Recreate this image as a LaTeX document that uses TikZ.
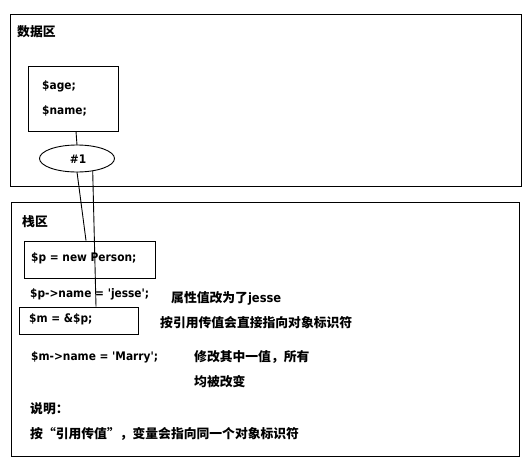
\documentclass[tikz,border=0pt]{standalone}
\usepackage{fontspec}
\setmainfont{Noto Sans CJK SC}
\newfontfamily\lat{DejaVu Sans Condensed}[Ligatures=TeXOff]
\usetikzlibrary{shapes.geometric}
\begin{document}
\begin{tikzpicture}[x=1pt,y=-1pt,
  box/.style={draw,line width=0.9pt,inner sep=0pt},
  txt/.style={anchor=west,inner sep=0pt,font=\fontsize{12.8}{14}\selectfont\bfseries},
  code/.style={anchor=west,inner sep=0pt,font=\lat\fontsize{11.8}{14}\selectfont\bfseries},
  conn/.style={line width=0.9pt}]
\useasboundingbox[fill=white] (0,0) rectangle (532,463);
% outer areas
\node[box,minimum width=511pt,minimum height=172pt] (data) at (265.5,100) {};
\node[box,minimum width=508pt,minimum height=254pt] (stack) at (265,329) {};
\node[txt] (datal) at (17,32) {数据区};
\node[txt] (stackl) at (22,222) {栈区};
% object
\node[box,minimum width=90pt,minimum height=65pt] (obj) at (73,98.5) {};
\node[code] (age) at (42,86) {\$age;};
\node[code] (name) at (42,111) {\$name;};
\node[draw,ellipse,line width=0.9pt,minimum width=75pt,minimum height=27pt,inner sep=0pt,outer sep=0pt] (ell) at (77,158.5) {};
\node[code,anchor=center] (id) at (78,159) {\#1};
% stack boxes
\node[box,minimum width=131pt,minimum height=37pt] (pbox) at (89.5,259.5) {};
\node[code] (pnew) at (31,258) {\$p = new Person;};
\node[code] (pname) at (30,294) {\$p->name = 'jesse';};
\node[txt] (c1) at (171,298) {属性值改为了{\lat jesse}};
\node[box,minimum width=119pt,minimum height=27pt] (mbox) at (78.5,320.5) {};
\node[code] (mref) at (29,319) {\$m = \&\$p;};
\node[txt] (c2) at (160,323) {按引用传值会直接指向对象标识符};
\node[code] (mname) at (31,357) {\$m->name = 'Marry';};
\node[txt] (c3) at (194,357) {修改其中一值，所有};
\node[txt] (c4) at (194,382) {均被改变};
\node[txt] (c5) at (30,409) {说明：};
\node[txt] (c6) at (30,434) {按“引用传值”，变量会指向同一个对象标识符};
% connectors
\draw[conn] ([xshift=3pt]obj.south) -- (ell.north);
\draw[conn] (ell.south) -- ([xshift=-3.5pt]pbox.north);
\draw[conn] (ell.-38) -- ([xshift=17.5pt]mbox.north);
\end{tikzpicture}
\end{document}
